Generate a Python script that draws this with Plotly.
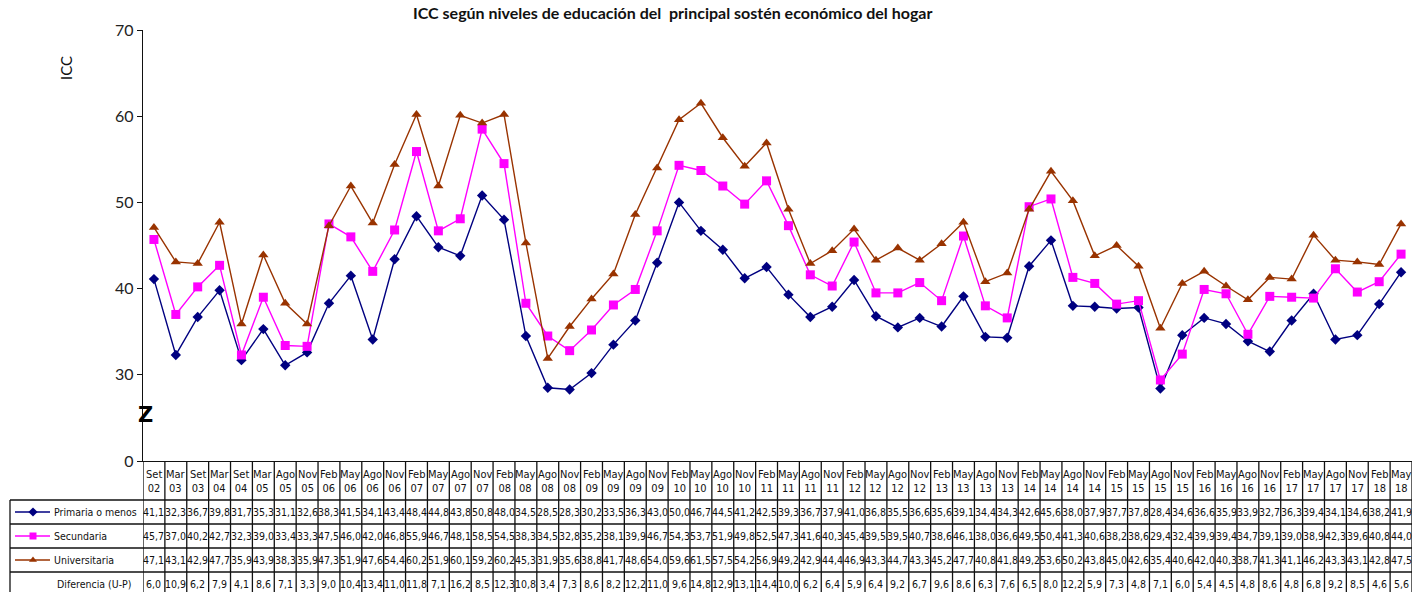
import plotly.graph_objects as go

months = ["Set","Mar","Set","Mar","Set","Mar","Ago","Nov","Feb","May","Ago","Nov","Feb","May","Ago","Nov",
          "Feb","May","Ago","Nov","Feb","May","Ago","Nov","Feb","May","Ago","Nov","Feb","May","Ago","Nov",
          "Feb","May","Ago","Nov","Feb","May","Ago","Nov","Feb","May","Ago","Nov","Feb","May","Ago","Nov",
          "Feb","May","Ago","Nov","Feb","May","Ago","Nov","Feb","May"]
years = ["02","03","03","04","04","05","05","05","06","06","06","06","07","07","07","07",
         "08","08","08","08","09","09","09","09","10","10","10","10","11","11","11","11",
         "12","12","12","12","13","13","13","13","14","14","14","14","15","15","15","15",
         "16","16","16","16","17","17","17","17","18","18"]

primaria = [41.1,32.3,36.7,39.8,31.7,35.3,31.1,32.6,38.3,41.5,34.1,43.4,48.4,44.8,43.8,50.8,48.0,34.5,28.5,28.3,
            30.2,33.5,36.3,43.0,50.0,46.7,44.5,41.2,42.5,39.3,36.7,37.9,41.0,36.8,35.5,36.6,35.6,39.1,34.4,34.3,
            42.6,45.6,38.0,37.9,37.7,37.8,28.4,34.6,36.6,35.9,33.9,32.7,36.3,39.4,34.1,34.6,38.2,41.9]
secundaria = [45.7,37.0,40.2,42.7,32.3,39.0,33.4,33.3,47.5,46.0,42.0,46.8,55.9,46.7,48.1,58.5,54.5,38.3,34.5,32.8,
              35.2,38.1,39.9,46.7,54.3,53.7,51.9,49.8,52.5,47.3,41.6,40.3,45.4,39.5,39.5,40.7,38.6,46.1,38.0,36.6,
              49.5,50.4,41.3,40.6,38.2,38.6,29.4,32.4,39.9,39.4,34.7,39.1,39.0,38.9,42.3,39.6,40.8,44.0]
universitaria = [47.1,43.1,42.9,47.7,35.9,43.9,38.3,35.9,47.3,51.9,47.6,54.4,60.2,51.9,60.1,59.2,60.2,45.3,31.9,35.6,
                 38.8,41.7,48.6,54.0,59.6,61.5,57.5,54.2,56.9,49.2,42.9,44.4,46.9,43.3,44.7,43.3,45.2,47.7,40.8,41.8,
                 49.2,53.6,50.2,43.8,45.0,42.6,35.4,40.6,42.0,40.3,38.7,41.3,41.1,46.2,43.3,43.1,42.8,47.5]
diferencia = [6.0,10.9,6.2,7.9,4.1,8.6,7.1,3.3,9.0,10.4,13.4,11.0,11.8,7.1,16.2,8.5,12.3,10.8,3.4,7.3,
              8.6,8.2,12.2,11.0,9.6,14.8,12.9,13.1,14.4,10.0,6.2,6.4,5.9,6.4,9.2,6.7,9.6,8.6,6.3,7.6,
              6.5,8.0,12.2,5.9,7.3,4.8,7.1,6.0,5.4,4.5,4.8,8.6,4.8,6.8,9.2,8.5,4.6,5.6]

series_names = ["Primaria o menos", "Secundaria", "Universitaria"]
series_vals = [primaria, secundaria, universitaria]
colors = ["#000080", "#FF00FF", "#993300"]
symbols = ["diamond", "square", "triangle-up"]
msizes = [8, 9, 9]
ytick_vals = [20, 30, 40, 50, 60, 70]
ytick_text = ["0", "30", "40", "50", "60", "70"]

W, H = 1412, 592
def px(x): return x / W
def py(y): return (H - y) / H

n = len(months)
xs = list(range(n))
FONT = "Liberation Sans Narrow, DejaVu Sans Condensed, Arial Narrow, sans-serif"

fig = go.Figure()
for name, vals, c, s, ms in zip(series_names, series_vals, colors, symbols, msizes):
    fig.add_trace(go.Scatter(x=xs, y=vals, mode="lines+markers", name=name,
                             line=dict(color=c, width=1.4),
                             marker=dict(symbol=s, size=ms, color=c),
                             showlegend=False, cliponaxis=False))

# legend samples in the table's first column (axis x2/y2 spans only that column, 0..133 px wide)
row_centers = [512, 536, 560, 584]
for i, (name, c, s) in enumerate(zip(series_names, colors, symbols)):
    r = i
    fig.add_trace(go.Scatter(x=[5, 40], y=[r, r], xaxis="x2", yaxis="y2",
                             mode="lines", line=dict(color=c, width=1.3),
                             showlegend=False, hoverinfo="skip"))
    fig.add_trace(go.Scatter(x=[23], y=[r], xaxis="x2", yaxis="y2", mode="markers",
                             marker=dict(symbol=s, size=7, color=c),
                             showlegend=False, hoverinfo="skip"))

annotations = []
for i in range(n):
    annotations.append(dict(x=i, y=py(481), xref="x", yref="paper", showarrow=False,
                            text=f"{months[i]}<br>{years[i]}", font=dict(size=11, family=FONT, color="#111"),
                            xanchor="center", yanchor="middle"))
rows = [primaria, secundaria, universitaria, diferencia]
for r, vals in enumerate(rows):
    for i, v in enumerate(vals):
        annotations.append(dict(x=i, y=py(row_centers[r]), xref="x", yref="paper", showarrow=False,
                                text=f"{v:.1f}".replace(".", ","),
                                font=dict(size=10.5, family=FONT, color="#111"),
                                xanchor="center", yanchor="middle"))
row_labels = series_names + ["Diferencia (U-P)"]
for r, lab in enumerate(row_labels):
    annotations.append(dict(x=px(52 if r < 3 else 55), y=py(row_centers[r]), xref="paper", yref="paper",
                            showarrow=False, text=lab, font=dict(size=10.5, family=FONT, color="#111"),
                            xanchor="left", yanchor="middle"))

annotations.append(dict(x=px(672), y=py(12), xref="paper", yref="paper", showarrow=False,
                        text="<b>ICC según niveles de educación del  principal sostén económico del hogar</b>",
                        font=dict(size=16, family="Lato, Open Sans, sans-serif", color="#111"),
                        xanchor="center", yanchor="middle"))
annotations.append(dict(x=px(66), y=py(68), xref="paper", yref="paper", showarrow=False, text="ICC",
                        textangle=-90, font=dict(size=15, family="Lato, sans-serif", color="#111"),
                        xanchor="center", yanchor="middle"))
annotations.append(dict(x=px(145), y=py(415), xref="paper", yref="paper", showarrow=False, text="<b>Z</b>",
                        font=dict(size=21, family="DejaVu Sans, sans-serif", color="#000"),
                        xanchor="center", yanchor="middle"))

shapes = []
line_style = dict(color="#111", width=1.3)
for k in range(n + 1):
    shapes.append(dict(type="line", xref="x", yref="paper", x0=k - 0.5, x1=k - 0.5,
                       y0=0, y1=py(461), line=line_style))
for yb in [500, 524, 548, 572]:
    shapes.append(dict(type="line", xref="paper", yref="paper", x0=px(10), x1=1,
                       y0=py(yb), y1=py(yb), line=line_style))
shapes.append(dict(type="line", xref="paper", yref="paper", x0=px(10), x1=px(10),
                   y0=0, y1=py(500), line=line_style))

fig.update_layout(
    width=W, height=H, margin=dict(l=0, r=0, t=0, b=0, autoexpand=False),
    paper_bgcolor="white", plot_bgcolor="rgba(0,0,0,0)",
    xaxis=dict(domain=[px(143), 1], range=[-0.5, n - 0.5], showticklabels=False, ticks="",
               showgrid=False, zeroline=False, showline=True, linecolor="#111", linewidth=1.3,
               anchor="y", automargin=False),
    yaxis=dict(domain=[py(461), py(30)], range=[20, 70], tickvals=ytick_vals, ticktext=ytick_text,
               ticks="outside", ticklen=5, tickcolor="#111", showgrid=False, zeroline=False,
               showline=True, linecolor="#111", linewidth=1.3, anchor="x", automargin=False,
               tickfont=dict(size=16, family="Lato, sans-serif", color="#222")),
    xaxis2=dict(domain=[px(10), px(143)], range=[0, 133], visible=False, anchor="y2", fixedrange=True,
                automargin=False),
    yaxis2=dict(domain=[0, py(500)], range=[-0.5 + 92 / 24, -0.5], visible=False, anchor="x2",
                fixedrange=True, automargin=False),
    annotations=annotations, shapes=shapes,
)

fig.write_html("out.html", config={"displayModeBar": False},
               post_script="document.body.style.margin='0';document.body.style.overflow='hidden';")
